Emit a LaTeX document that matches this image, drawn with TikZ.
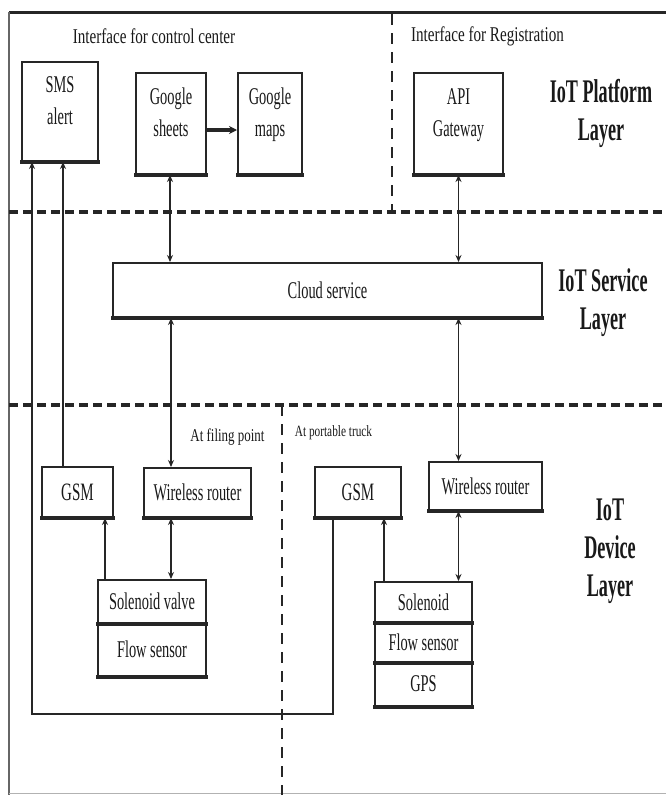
\documentclass[tikz,border=0pt]{standalone}
\usepackage{fontspec}
\setmainfont{Liberation Serif}[FakeStretch=0.6]
\newfontfamily\headfont{Liberation Serif}[FakeStretch=0.72]
\newfontfamily\layerfont{Liberation Serif}[FakeStretch=0.55]
\usetikzlibrary{arrows.meta}

% two-line box caption, lifted above the box centre without changing its extent
\newcommand\liftedtext[2]{\raisebox{#1}[\height][\depth]{\begin{tabular}{@{}c@{}}#2\end{tabular}}}

\begin{document}
\begin{tikzpicture}[x=1pt,y=-1pt,
  box/.style={draw=black!85, line width=2pt, inner sep=0pt, text=black!90,
    align=center, font=\fontsize{24}{32}\selectfont},
  conn/.style={draw=black!85, line width=1.5pt},
  tip/.style={-{Stealth[length=7pt,width=6pt]}},
  both/.style={{Stealth[length=7pt,width=6pt]}-{Stealth[length=7pt,width=6pt]}},
  layer/.style={align=center, text=black!90, inner sep=0pt,
    font=\layerfont\bfseries\fontsize{33}{38}\selectfont},
  head/.style={text=black!90, inner sep=0pt, font=\headfont\fontsize{21}{24}\selectfont},
  place/.style={text=black!90, inner sep=0pt, font=\headfont\fontsize{18}{20}\selectfont},
  hdash/.style={draw=black!85, line width=3.5pt, dash pattern=on 9pt off 5pt},
  vdash/.style={draw=black!85, line width=2.2pt, dash pattern=on 11pt off 8pt},
]
\useasboundingbox[fill=white] (0,0) rectangle (666,795);

% outer frame
\draw[line width=3pt, black!85] (9,12) -- (666,12);
\draw[line width=2.5pt, black!60] (9,12) -- (9,795);
\draw[line width=1pt, black!30] (9,793) -- (666,793);

% layer separators and zone separators
\draw[hdash] (9,212) -- (666,212);
\draw[hdash] (9,405) -- (666,405);
\draw[vdash] (392,14) -- (392,212);
\draw[vdash] (282,405) -- (282,795);

% headings
\node[head] (ifcc) at (154,36) {Interface for control center};
\node[head] (ifreg) at (487.5,36) {Interface for Registration};
\node[place] (fillpt) at (227.5,437) {At filing point};
\node[place, font=\headfont\fontsize{15.7}{18}\selectfont] (truck) at (333.5,433) {At portable truck};

% layer names
\node[layer] (lplat) at (601,113.5) {IoT Platform\\Layer};
\node[layer] (lserv) at (603,302.5) {IoT Service\\Layer};
\node[layer] (ldev)  at (610,551) {IoT\\Device\\Layer};

% platform layer
\node[box, minimum width=76pt, minimum height=99pt] (sms) at (60,111.5) {\liftedtext{9pt}{SMS\\alert}};
\node[box, minimum width=70pt, minimum height=101pt] (sheets) at (171,123.5) {\liftedtext{9pt}{Google\\sheets}};
\node[box, minimum width=64pt, minimum height=101pt] (maps) at (270,123.5) {\liftedtext{9pt}{Google\\maps}};
\node[box, minimum width=89pt, minimum height=101pt] (api) at (458.5,123.5) {\liftedtext{9pt}{API\\Gateway}};

% service layer
\node[box, minimum width=429pt, minimum height=54pt] (cloud) at (327.5,290) {Cloud service};

% device layer, filling point
\node[box, minimum width=71pt, minimum height=50pt, font=\fontsize{25}{30}\selectfont] (gsmL) at (77.5,492) {GSM};
\node[box, minimum width=107pt, minimum height=49pt] (routerL) at (197.5,492.5) {Wireless router};
\node[box, minimum width=108pt, minimum height=43pt] (valve) at (152,601.5) {Solenoid valve};
\node[box, minimum width=108pt, minimum height=53pt] (flowL) at (152,649.5) {Flow sensor};

% device layer, portable truck
\node[box, minimum width=86pt, minimum height=50pt, font=\fontsize{25}{30}\selectfont] (gsmR) at (358,492) {GSM};
\node[box, minimum width=113pt, minimum height=48pt] (routerR) at (485.5,486) {Wireless router};
\node[box, minimum width=97pt, minimum height=40pt] (solR) at (423.5,602) {Solenoid};
\node[box, minimum width=97pt, minimum height=40pt] (flowR) at (423.5,642) {Flow sensor};
\node[box, minimum width=97pt, minimum height=44pt] (gps) at (423.5,684) {GPS};

% heavier lower edges of the boxes
\foreach \n in {sms,sheets,maps,api,cloud,gsmL,routerL,valve,flowL,gsmR,routerR,solR,flowR,gps}
  \draw[line width=3.5pt, black!85] ([xshift=-1pt]\n.south west) -- ([xshift=1pt]\n.south east);

% connectors
\draw[line width=3.2pt, black!85, -{Stealth[length=8pt,width=8pt]}]
  ([yshift=-6.5pt]sheets.east) -- ([yshift=-6.5pt]maps.west);
\draw[conn, both] ([xshift=-1pt]sheets.south) -- ([xshift=-1pt]sheets.south |- cloud.north);
\draw[conn, both] (api.south) -- (api.south |- cloud.north);
\draw[conn, both] (cloud.south -| sheets.south) -- (routerL.north -| sheets.south);
\draw[conn, both] (cloud.south -| api.south) -- (routerR.north -| api.south);
\draw[conn, tip] ([xshift=-14.5pt]gsmL.north) -- ([xshift=-14.5pt]gsmL.north |- sms.south);
\draw[conn, tip] ([xshift=27.5pt]gsmL.south |- valve.north) -- ([xshift=27.5pt]gsmL.south);
\draw[conn, both] (routerL.south -| sheets.south) -- (valve.north -| sheets.south);
\draw[conn, tip] ([xshift=26pt]gsmR.south |- solR.north) -- ([xshift=26pt]gsmR.south);
\draw[conn, both] (routerR.south -| api.south) -- (solR.north -| api.south);

% truck GSM alert line running round to the SMS box
\coordinate (loopcorner) at (32,714);
\draw[conn, line width=2.4pt, tip] ([xshift=-25pt]gsmR.south) |- (loopcorner) -- (loopcorner |- sms.south);
\end{tikzpicture}
\end{document}
